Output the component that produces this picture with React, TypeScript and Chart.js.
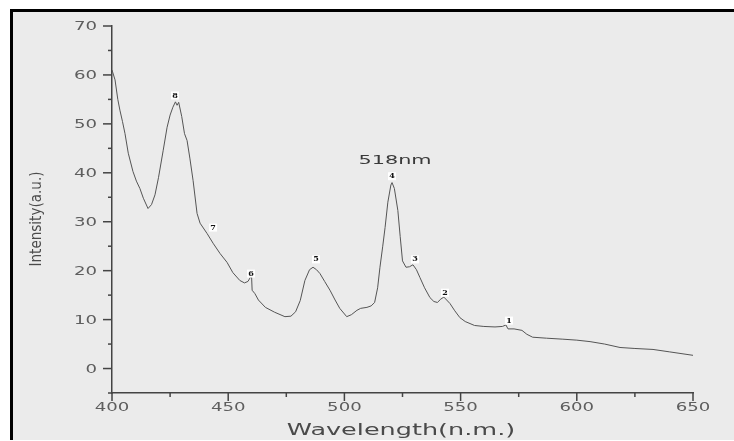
import React, { useEffect, useRef } from "react";
import { Chart, registerables } from "chart.js";

Chart.register(...registerables);

// Spectrum
const wavelengths = [
  400, 401.3, 402.5, 403.4, 404.5, 405.6, 407, 409, 410.5, 412, 413.5, 415.5, 417, 418.5, 420, 422,
  423.7, 425, 426.2, 427.3, 428, 428.7, 430, 431.2, 432.3, 433.5, 434.9, 436.6, 437.9, 440.9, 443.5,
  446.5, 449.5, 452, 455, 457, 458.5, 459.5, 460, 460.3, 461.5, 463, 466, 470, 474.4, 477, 479, 481,
  483, 485, 486.5, 488, 489.5, 491.5, 493.8, 496, 498, 501, 503, 505.4, 507, 509.7, 511.5, 513,
  514.3, 515.3, 516.5, 517.5, 518.7, 520, 520.5, 521.5, 523, 524, 525, 526.5, 528, 529.5, 531,
  532.5, 534.5, 536.8, 538.5, 540, 541.5, 542.8, 544, 545.4, 547.5, 549.7, 552, 556, 560, 564.8,
  568, 569.5, 570.4, 573, 576.4, 578.5, 581, 587, 594, 600, 605.7, 612, 618.6, 625, 632.8, 640, 650,
];
const intensities = [
  61, 59, 55, 52.8, 50.5, 48, 44, 40.3, 38.3, 36.8, 34.8, 32.7, 33.5, 35.5, 39, 44.5,
  49.3, 51.8, 53.4, 54.5, 53.8, 54.4, 51.5, 48, 46.6, 43, 38.4, 31.7, 29.7, 27.6, 25.6,
  23.5, 21.7, 19.6, 18, 17.5, 17.8, 18.6, 19.5, 16, 15.3, 14, 12.5, 11.5, 10.6, 10.7, 11.6, 13.9,
  18, 20.2, 20.7, 20.2, 19.4, 17.8, 16, 14, 12.3, 10.6, 11, 11.9, 12.3, 12.5, 12.8, 13.5,
  16.5, 20.7, 25, 28.8, 34, 37.5, 38, 36.8, 32.3, 27, 22, 20.7, 20.8, 21.2, 20.2,
  18.6, 16.5, 14.5, 13.7, 13.5, 14.2, 14.6, 14, 13.3, 11.8, 10.4, 9.6, 8.8, 8.6, 8.5,
  8.6, 8.9, 8.1, 8.1, 7.8, 7.0, 6.4, 6.2, 6.0, 5.8, 5.5, 5.0, 4.3, 4.1, 3.9, 3.4, 2.7,
];

const xTickValues = [400, 450, 500, 550, 600, 650];
const xTickLabels = ["400", "450", "500", "550", "600", "650"];
const yTickValues = [0, 10, 20, 30, 40, 50, 60, 70];
const yTickLabels = ["0", "10", "20", "30", "40", "50", "60", "70"];

const peakNames = ["8", "7", "6", "5", "4", "3", "2", "1"];
const peakX = [427.1, 443.5, 459.8, 487.8, 520.5, 530.4, 543.3, 570.8];
const peakY = [55.8, 28.8, 19.4, 22.3, 39.3, 22.3, 15.5, 9.8];

const annotationText = "518nm";
const annotationX = 521.8;
const annotationY = 42.5;

const xTitle = "Wavelength(n.m.)";
const yTitle = "Intensity(a.u.)";

function stretchText(
  ctx: CanvasRenderingContext2D,
  text: string,
  x: number,
  y: number,
  align: CanvasTextAlign,
  sx: number
) {
  ctx.save();
  ctx.translate(x, y);
  ctx.scale(sx, 1);
  ctx.textAlign = align;
  ctx.textBaseline = "middle";
  ctx.fillText(text, 0, 0);
  ctx.restore();
}

const decorPlugin = {
  id: "decor",
  beforeDraw(chart: any) {
    const ctx = chart.ctx as CanvasRenderingContext2D;
    ctx.save();
    ctx.fillStyle = "#ffffff";
    ctx.fillRect(0, 0, chart.width, chart.height);
    ctx.fillStyle = "#ebebeb";
    ctx.fillRect(10, 9, chart.width - 10, 431);
    ctx.fillStyle = "#000000";
    ctx.fillRect(10, 9, chart.width - 10, 3);
    ctx.fillRect(10, 9, 3, 431);
    ctx.restore();
  },
  afterDraw(chart: any) {
    const ctx = chart.ctx as CanvasRenderingContext2D;
    const xs = chart.scales.x;
    const ys = chart.scales.y;
    const left = chart.chartArea.left;
    const bottom = chart.chartArea.bottom;
    ctx.save();
    ctx.strokeStyle = "#444444";
    ctx.lineWidth = 1.5;
    // y ticks
    for (let v = -5; v <= 70; v += 5) {
      const p = ys.getPixelForValue(v);
      const len = v % 10 === 0 ? 9 : 4;
      ctx.beginPath();
      ctx.moveTo(left - len, p);
      ctx.lineTo(left, p);
      ctx.stroke();
    }
    // x ticks
    for (let v = 400; v <= 650; v += 25) {
      const p = xs.getPixelForValue(v);
      const len = v % 50 === 0 ? 8 : 4;
      ctx.beginPath();
      ctx.moveTo(p, bottom);
      ctx.lineTo(p, bottom + len);
      ctx.stroke();
    }
    // tick labels
    ctx.fillStyle = "#5e5e5e";
    ctx.font = "12.5px 'DejaVu Sans'";
    yTickValues.forEach((v, i) => {
      stretchText(ctx, yTickLabels[i], left - 15, ys.getPixelForValue(v) + 1, "right", 1.45);
    });
    xTickValues.forEach((v, i) => {
      stretchText(ctx, xTickLabels[i], xs.getPixelForValue(v), bottom + 15, "center", 1.45);
    });
    // axis titles
    ctx.fillStyle = "#4a4a4a";
    ctx.font = "15px 'DejaVu Sans'";
    stretchText(ctx, xTitle, 401, 431, "center", 1.7);
    ctx.save();
    ctx.translate(37, 219);
    ctx.rotate(-Math.PI / 2);
    ctx.scale(0.82, 1);
    ctx.font = "16.5px 'DejaVu Sans'";
    ctx.textAlign = "center";
    ctx.textBaseline = "middle";
    ctx.fillText(yTitle, 0, 0);
    ctx.restore();
    // 518nm
    ctx.fillStyle = "#3a3a3a";
    ctx.font = "13px 'DejaVu Sans'";
    stretchText(ctx, annotationText, xs.getPixelForValue(annotationX), ys.getPixelForValue(annotationY), "center", 1.6);
    // peak numbers
    ctx.font = "bold 8px 'DejaVu Serif'";
    peakNames.forEach((n, i) => {
      const px = xs.getPixelForValue(peakX[i]);
      const py = ys.getPixelForValue(peakY[i]);
      ctx.fillStyle = "#ffffff";
      ctx.fillRect(px - 4, py - 4, 8, 8);
      ctx.fillStyle = "#111111";
      ctx.textAlign = "center";
      ctx.textBaseline = "middle";
      ctx.fillText(n, px, py);
    });
    ctx.restore();
  },
};

export default function App() {
  const canvasRef = useRef<HTMLCanvasElement | null>(null);
  useEffect(() => {
    if (!canvasRef.current) return;
    const data = wavelengths.map((w, i) => ({ x: w, y: intensities[i] }));
    const chart = new Chart(canvasRef.current, {
      type: "line",
      data: {
        datasets: [
          {
            data,
            borderColor: "#555555",
            borderWidth: 1,
            pointRadius: 0,
            tension: 0,
            fill: false,
          },
        ],
      },
      options: {
        animation: false,
        responsive: false,
        devicePixelRatio: 1,
        layout: { padding: { top: 26, right: 41, left: 0, bottom: 0 } },
        plugins: { legend: { display: false }, tooltip: { enabled: false } },
        scales: {
          x: {
            type: "linear",
            min: 400,
            max: 650,
            ticks: { display: false },
            grid: { display: false },
            border: { display: true, color: "#444444", width: 1.5 },
            afterFit: (s: any) => {
              s.height = 48;
            },
          },
          y: {
            min: -5,
            max: 70,
            ticks: { display: false },
            grid: { display: false },
            border: { display: true, color: "#444444", width: 1.5 },
            afterFit: (s: any) => {
              s.width = 112;
            },
          },
        },
      },
      plugins: [decorPlugin],
    } as any);
    return () => chart.destroy();
  }, []);
  return (
    <div style={{ position: "absolute", left: 0, top: 0, width: 734, height: 441 }}>
      <canvas ref={canvasRef} width={734} height={441} style={{ display: "block" }} />
    </div>
  );
}
